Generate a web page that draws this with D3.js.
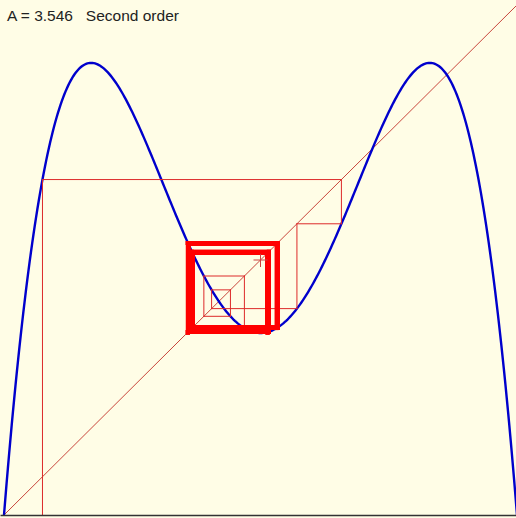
<!DOCTYPE html>
<html>
<head>
<meta charset="utf-8">
<script src="https://cdn.jsdelivr.net/npm/d3@7"></script>
<style>
  html, body { margin: 0; padding: 0; background: #fffde6; }
  svg { display: block; }
</style>
</head>
<body>
<svg id="chart" width="516" height="518"></svg>
<script>
// Logistic map parameter and cobweb settings
const growthRate = 3.546;
const orderLabel = "Second order";
const startX = 0.075;
const iterations = 160;
const cyclePeriod = 4;
const curveSamples = 400;
const markerPoint = [0.5, 0.5];

const W = 516, H = 518;
const svg = d3.select("#chart");

svg.append("rect").attr("width", W).attr("height", H).attr("fill", "#fffde6");

const x = d3.scaleLinear().domain([0, 1]).range([4, 517]);
const y = d3.scaleLinear().domain([0, 1]).range([515, 5]);

const f = v => growthRate * v * (1 - v);
const f2 = v => f(f(v));

// Second-iterate curve
const curve = d3.range(curveSamples + 1).map(i => {
  const v = i / curveSamples;
  return [v, f2(v)];
});

// Orbit under the second iterate
const orbit = [startX];
for (let i = 0; i < iterations + cyclePeriod; i++) orbit.push(f2(orbit[i]));

// First step that already sits on the settled cycle
let settled = orbit.findIndex((v, i) => i + cyclePeriod < orbit.length &&
  Math.abs(v - orbit[i + cyclePeriod]) < 0.012);
if (settled < 0) settled = iterations;

// Cobweb segments: vertical to curve, then horizontal to diagonal
const segs = [];
for (let i = 0; i < iterations; i++) {
  const cx = orbit[i], nx = orbit[i + 1];
  const fromY = i === 0 ? 0 : cx;
  segs.push({ pts: [[cx, fromY], [cx, nx]], late: i >= settled });
  segs.push({ pts: [[cx, nx], [nx, nx]], late: i >= settled });
}

const line = d3.line().x(d => x(d[0])).y(d => y(d[1]));

// Diagonal y = x
svg.append("path")
  .attr("d", line([[0, 0], [1.01, 1.01]]))
  .attr("stroke", "#c8463c").attr("stroke-width", 1).attr("fill", "none");

// Curve
svg.append("path")
  .attr("d", line(curve))
  .attr("stroke", "#0000cc").attr("stroke-width", 2.4).attr("fill", "none");

// Cobweb: transient thin, settled cycle heavy
svg.append("g").selectAll("path")
  .data(segs)
  .join("path")
  .attr("d", d => line(d.pts))
  .attr("fill", "none")
  .attr("stroke", d => d.late ? "#ff0000" : "#dd2a2a")
  .attr("stroke-width", d => d.late ? 4 : 1)
  .attr("stroke-linecap", "square");

// Marker cross
const mx = x(markerPoint[0]), my = y(markerPoint[1]);
svg.append("path")
  .attr("d", `M${mx - 7},${my}H${mx + 7}M${mx},${my - 6}V${my + 7}`)
  .attr("stroke", "#cc4040").attr("stroke-width", 1).attr("fill", "none");

// Baseline axis
svg.append("g")
  .attr("transform", `translate(0,${y(0)})`)
  .call(d3.axisBottom(d3.scaleLinear().domain([0, 1]).range([0, W])).ticks(0).tickSize(0))
  .call(g => g.select(".domain").attr("stroke", "#333").attr("stroke-width", 1.5));

// Title
svg.append("text")
  .attr("x", 7).attr("y", 21)
  .attr("font-family", "Liberation Sans, Arial, sans-serif")
  .attr("font-size", 15.5)
  .attr("fill", "#222")
  .attr("xml:space", "preserve")
  .style("white-space", "pre")
  .text(`A = ${growthRate}   ${orderLabel}`);
</script>
</body>
</html>
